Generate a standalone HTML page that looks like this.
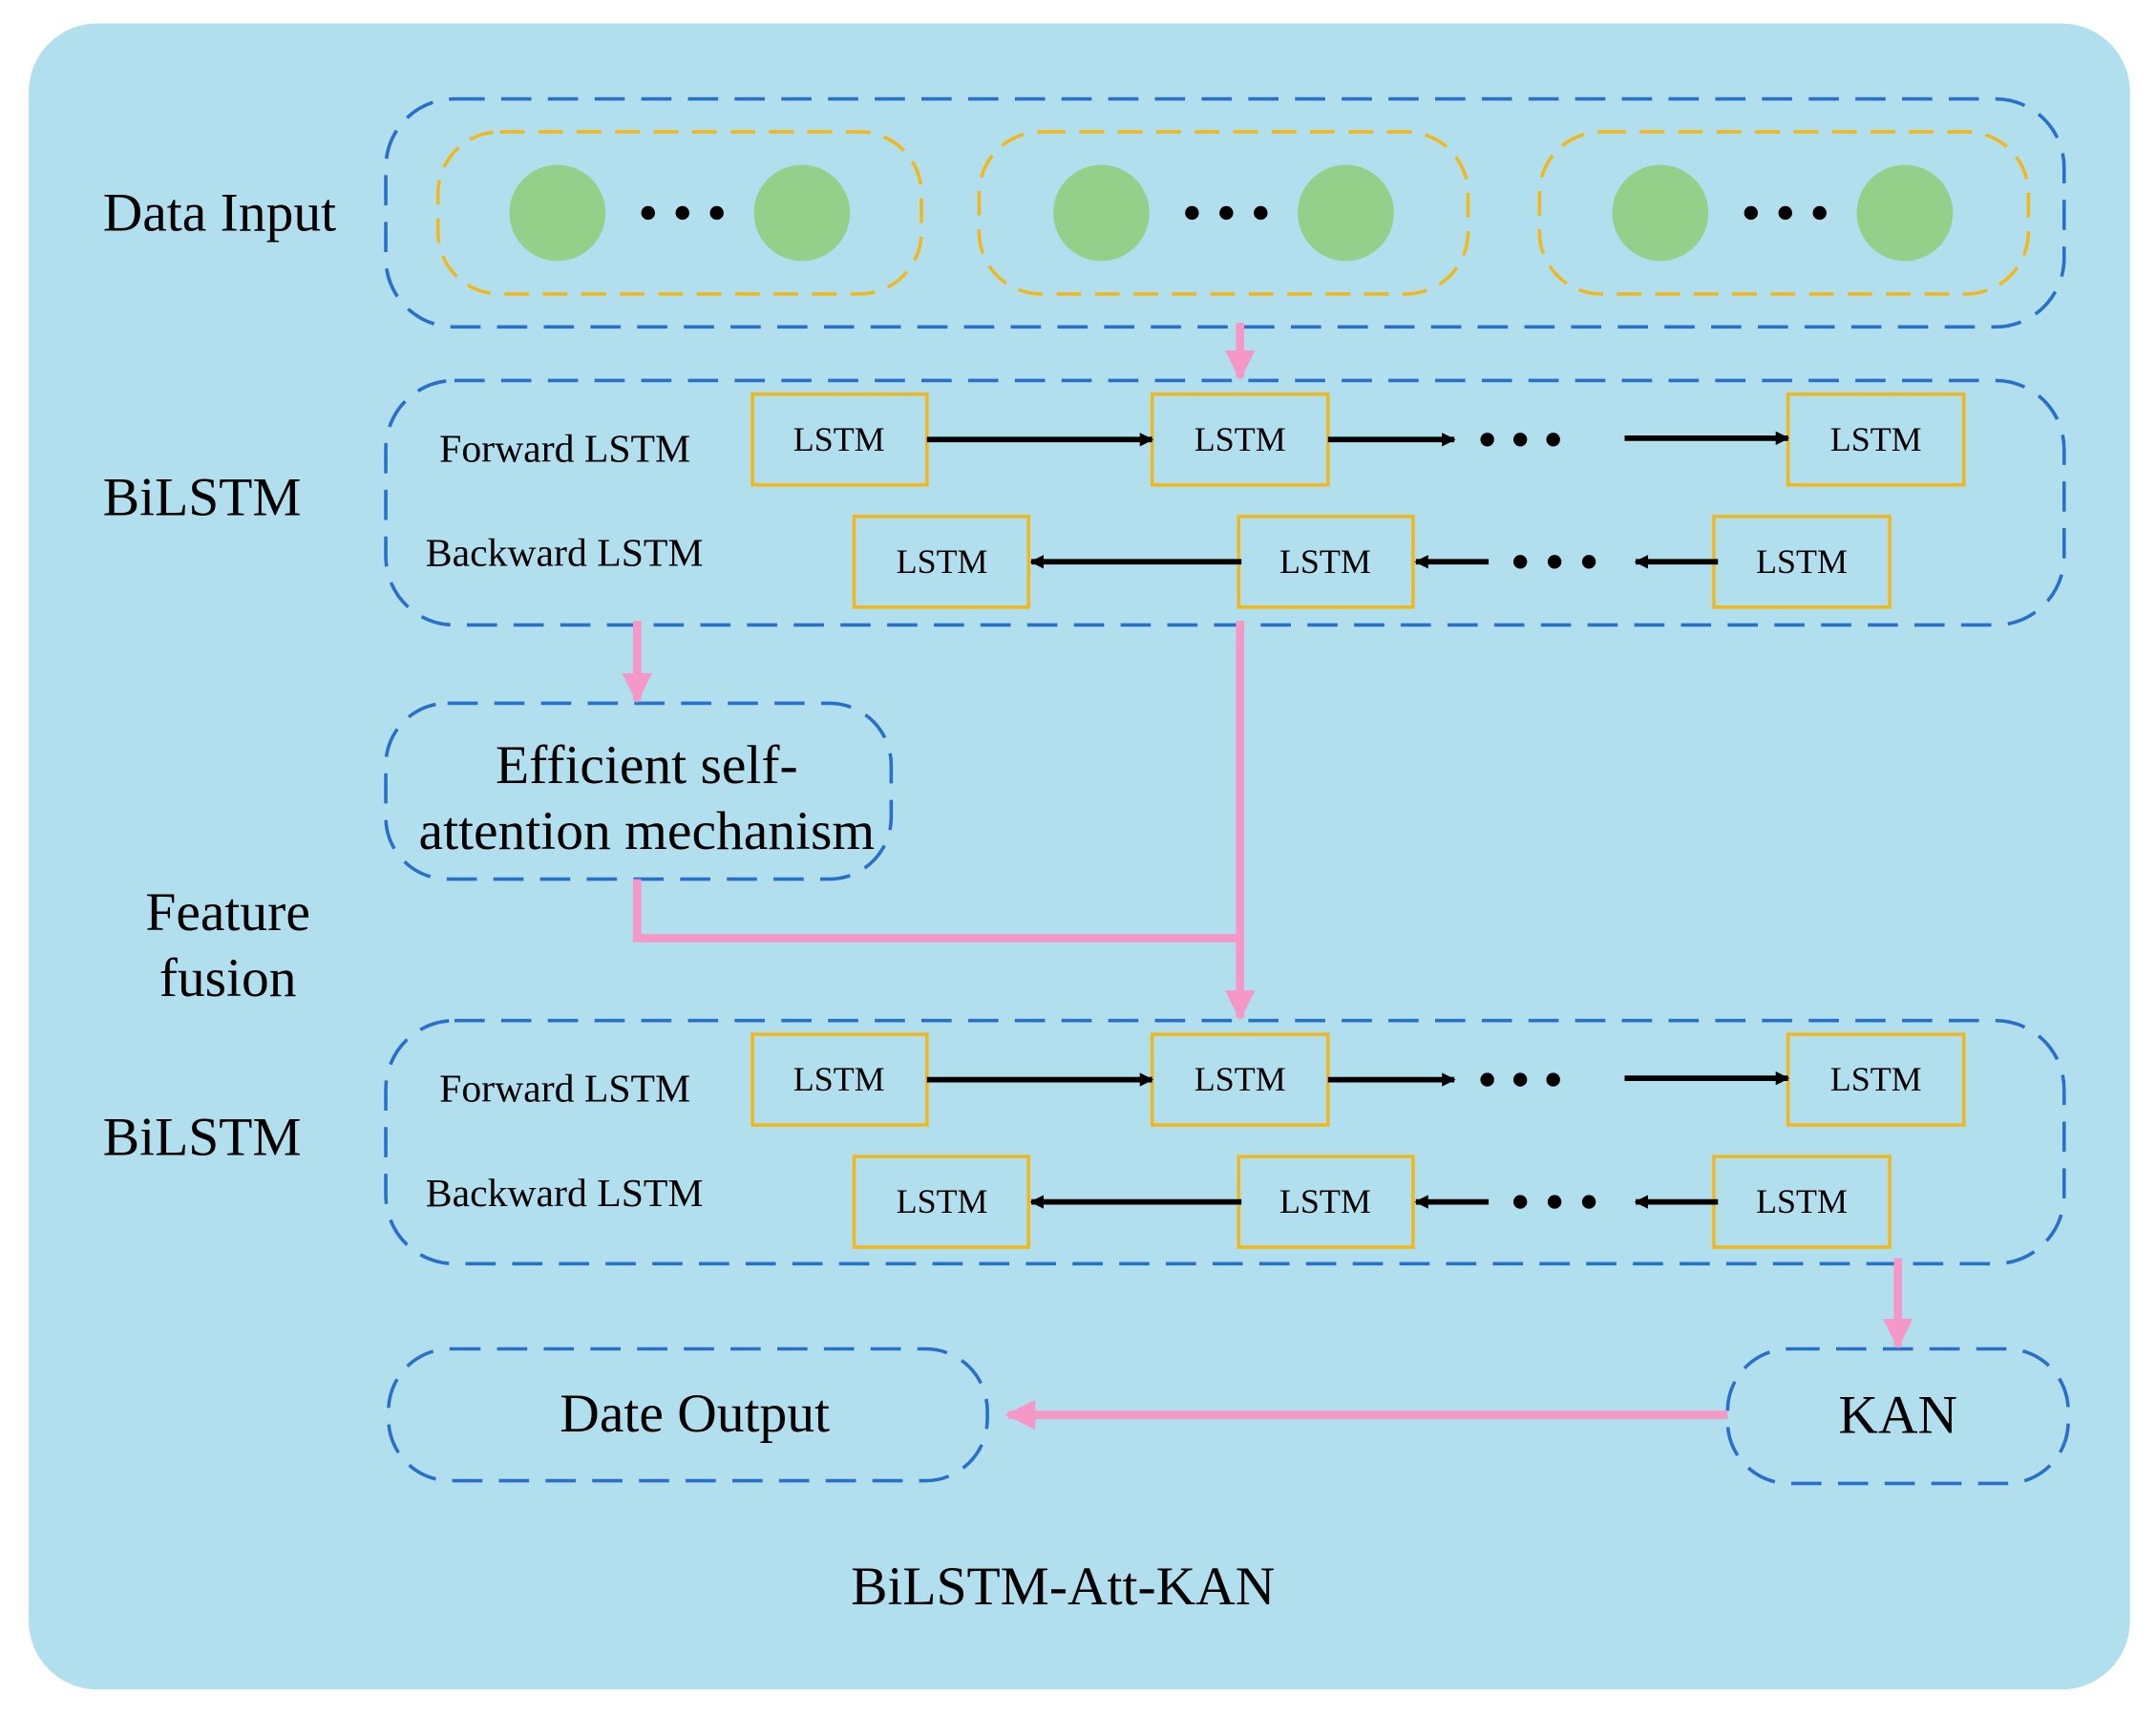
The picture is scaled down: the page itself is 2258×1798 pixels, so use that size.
<!DOCTYPE html>
<html><head><meta charset="utf-8"><style>
html,body{margin:0;padding:0;background:#fff;}
svg{display:block;}
text{font-family:"Liberation Serif",serif;fill:#000;}
</style></head><body>
<svg width="2258" height="1798" viewBox="0 0 1568 1250" xmlns="http://www.w3.org/2000/svg">
<defs>
<marker id="ab" markerWidth="10" markerHeight="10" refX="9" refY="5" orient="auto" markerUnits="userSpaceOnUse"><path d="M0,0 L10,5 L0,10 z" fill="#000"/></marker>
<marker id="ap" markerWidth="22" markerHeight="22" refX="20" refY="11" orient="auto" markerUnits="userSpaceOnUse"><path d="M0,0 L22,11 L0,22 z" fill="#f598c8"/></marker>
</defs>
<rect x="20" y="17" width="1530" height="1213" rx="50" fill="#b2dfee"/>
<g fill="none" stroke="#2a6fc8" stroke-width="2.5" stroke-dasharray="22,12">
<rect x="280" y="72" width="1222" height="166" rx="50"/>
<rect x="280" y="277" width="1222" height="178" rx="50"/>
<rect x="280" y="512" width="368" height="128" rx="45"/>
<rect x="280" y="743" width="1222" height="177" rx="50"/>
<rect x="282" y="982" width="436" height="96" rx="45"/>
<rect x="1257" y="982" width="248" height="98" rx="45"/>
</g>
<g fill="none" stroke="#f0b820" stroke-width="2.5" stroke-dasharray="18,10">
<rect x="318" y="96" width="352" height="118" rx="45"/>
<rect x="712" y="96" width="356" height="118" rx="45"/>
<rect x="1120" y="96" width="356" height="118" rx="45"/>
</g>
<g fill="#94d08a">
<circle cx="405" cy="155" r="35"/><circle cx="583" cy="155" r="35"/>
<circle cx="801" cy="155" r="35"/><circle cx="979" cy="155" r="35"/>
<circle cx="1208" cy="155" r="35"/><circle cx="1386" cy="155" r="35"/>
</g>
<g fill="#000">
<circle cx="471" cy="155" r="5"/><circle cx="496" cy="155" r="5"/><circle cx="521" cy="155" r="5"/>
<circle cx="867" cy="155" r="5"/><circle cx="892" cy="155" r="5"/><circle cx="917" cy="155" r="5"/>
<circle cx="1274" cy="155" r="5"/><circle cx="1299" cy="155" r="5"/><circle cx="1324" cy="155" r="5"/>
</g>
<text x="74" y="168" font-size="40">Data Input</text>

<g id="bl">
<text x="74" y="375" font-size="40">BiLSTM</text>
<text x="319" y="336" font-size="29">Forward LSTM</text>
<text x="309" y="412" font-size="29">Backward LSTM</text>
<g fill="none" stroke="#f0b820" stroke-width="2.5">
<rect x="547" y="287" width="127" height="66"/><rect x="838" y="287" width="128" height="66"/><rect x="1301" y="287" width="128" height="66"/>
<rect x="621" y="376" width="127" height="66"/><rect x="901" y="376" width="127" height="66"/><rect x="1247" y="376" width="128" height="66"/>
</g>
<g font-size="25" text-anchor="middle">
<text x="610" y="328">LSTM</text><text x="902" y="328">LSTM</text><text x="1365" y="328">LSTM</text>
<text x="685" y="417">LSTM</text><text x="964" y="417">LSTM</text><text x="1311" y="417">LSTM</text>
</g>
<g stroke="#000" stroke-width="4" marker-end="url(#ab)">
<line x1="674" y1="320" x2="838" y2="320"/><line x1="966" y1="320" x2="1058" y2="320"/><line x1="1182" y1="319" x2="1301" y2="319"/>
<line x1="903" y1="409" x2="750" y2="409"/><line x1="1083" y1="409" x2="1030" y2="409"/><line x1="1250" y1="409" x2="1190" y2="409"/>
</g>
<g fill="#000">
<circle cx="1082" cy="320" r="5"/><circle cx="1106" cy="320" r="5"/><circle cx="1130" cy="320" r="5"/>
<circle cx="1106" cy="409" r="5"/><circle cx="1131" cy="409" r="5"/><circle cx="1156" cy="409" r="5"/>
</g>
</g>
<use href="#bl" transform="translate(0,466)"/>

<g stroke="#f598c8" stroke-width="6" fill="none">
<line x1="902" y1="235" x2="902" y2="275" marker-end="url(#ap)"/>
<line x1="463" y1="452" x2="463" y2="510" marker-end="url(#ap)"/>
<polyline points="463,640 463,683 902,683"/>
<line x1="902" y1="452" x2="902" y2="741" marker-end="url(#ap)"/>
<line x1="1381" y1="916" x2="1381" y2="980" marker-end="url(#ap)"/>
<line x1="1257" y1="1030" x2="733" y2="1030" marker-end="url(#ap)"/>
</g>

<text x="470" y="570" font-size="40" text-anchor="middle">Efficient self-</text>
<text x="470" y="618" font-size="40" text-anchor="middle">attention mechanism</text>
<text x="165" y="677" font-size="40" text-anchor="middle">Feature</text>
<text x="165" y="725" font-size="40" text-anchor="middle">fusion</text>
<text x="505" y="1042" font-size="40" text-anchor="middle">Date Output</text>
<text x="1381" y="1043" font-size="40" text-anchor="middle">KAN</text>
<text x="773" y="1168" font-size="40" text-anchor="middle">BiLSTM-Att-KAN</text>
</svg>
</body></html>
